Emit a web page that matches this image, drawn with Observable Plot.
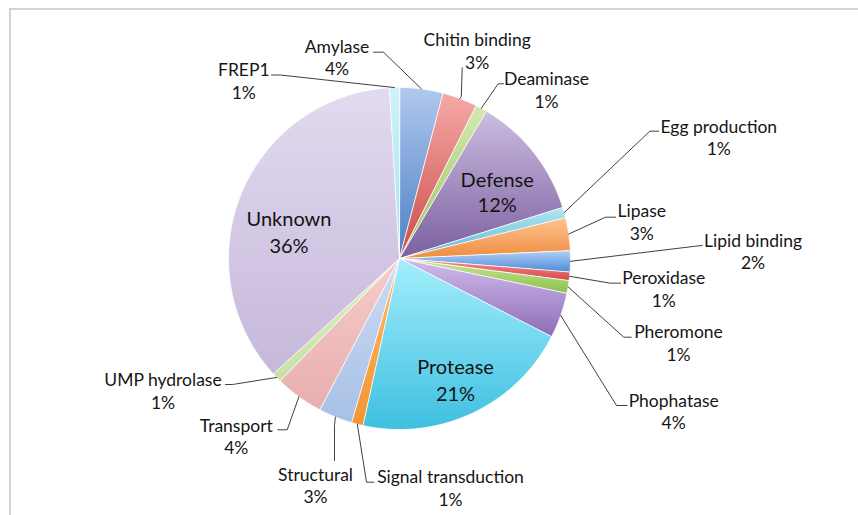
<!DOCTYPE html>
<html><head><meta charset="utf-8">
<script src="https://cdn.jsdelivr.net/npm/d3@7"></script>
<script src="https://cdn.jsdelivr.net/npm/@observablehq/plot@0.6"></script>
<style>body{margin:0;background:#fff}#chart svg{display:block}</style>
</head><body><div id="chart"></div>
<script>
// ---- data ----
const categories = ["Amylase","Chitin binding","Deaminase","Defense","Egg production","Lipase","Lipid binding","Peroxidase","Pheromone","Phophatase","Protease","Signal transduction","Structural","Transport","UMP hydrolase","Unknown","FREP1"];
const values = [4.1,3.3,1.1,11.7,1.0,3.1,2.0,0.8,1.2,4.3,20.9,1.1,3.2,4.6,0.9,35.9,0.95];
const pctLabels = ["4%","3%","1%","12%","1%","3%","2%","1%","1%","4%","21%","1%","3%","4%","1%","36%","1%"];

// ---- styles ----
const topColors    = ["#b0c8ee","#f4aaa8","#d4e8b0","#cbbde0","#b4e6f2","#fcc494","#b4d0f6","#f49090","#cce89a","#d0bcec","#a4eefc","#ffbc6a","#ccdcf4","#f6cccc","#e0f0c8","#e2daf0","#cef2fa"];
const bottomColors = ["#4a7fc4","#cc4a48","#9cc45c","#7c5fa0","#5ab8d4","#f08c3c","#4c8ad8","#d84848","#8cc04c","#8e6cb8","#3ec0e0","#f49432","#a8c0e6","#e8aeae","#c8e0a4","#c6b8da","#a4e2f2"];

// ---- layout ----
const W = 858, H = 515;
const cx = 399, cy = 258, R = 171;
// label: [x, y of name line center, y of pct line center]
const labelPos = [[336.5,46.7,69.3],[476.7,40,63.3],[546,79.3,101.7],[496.7,180,205],[718.3,126.7,149.3],[641.3,211,234.3],[752.5,240.7,262.7],[663.3,278.3,301],[678,331.7,355],[673.2,401,422.7],[455,367.3,394],[450,476.7,500],[315,475,496.7],[235.8,426,448.3],[162.5,380,402.7],[288.5,219.3,246],[243.3,70,92.7]];
const inside = categories.map(c => ["Defense","Protease","Unknown"].includes(c));
// leader: [elbow, attach] (null for inside labels)
const leaders = [[[383,51.7],[373,51.7]],[[460.8,96],[461.7,67.3]],[[497.7,83.3],[503,83.3]],null,[[649.3,130.7],[658.3,130.7]],[[605,216.7],[615,216.7]],[[695,245.7],[701.7,245]],[[610,282.7],[620,282.7]],[[623.3,336.7],[630.7,336.7]],[[616,405],[626.7,405]],null,[[366,481.7],[373.3,481.7]],[[334,425],[334,460]],[[286.7,429.3],[277.3,429.3]],[[232,384],[225,384]],null,[[280,74.5],[271,74.5]]];

const arcs = d3.pie().sort(null).value(d => d)(values);
const slicePts = [];
arcs.forEach((a, i) => {
  const fill = `url(#g${i})`;
  slicePts.push({name: categories[i], x: cx, y: cy, fill});
  const n = Math.max(2, Math.ceil((a.endAngle - a.startAngle) / 0.01));
  for (let k = 0; k <= n; k++) {
    const t = a.startAngle + (a.endAngle - a.startAngle) * k / n;
    slicePts.push({name: categories[i], x: cx + R * Math.sin(t), y: cy - R * Math.cos(t), fill});
  }
});
const leaderPts = [];
arcs.forEach((a, i) => {
  if (!leaders[i]) return;
  const m = (a.startAngle + a.endAngle) / 2;
  leaderPts.push({name: categories[i], x: cx + R * Math.sin(m), y: cy - R * Math.cos(m)});
  for (const [x, y] of leaders[i]) leaderPts.push({name: categories[i], x, y});
});
const nameLabels = categories.map((c, i) => ({text: c, x: labelPos[i][0], y: labelPos[i][1], inside: inside[i]}));
const pctLabelData = pctLabels.map((p, i) => ({text: p, x: labelPos[i][0], y: labelPos[i][2], inside: inside[i]}));

const gradients = () => {
  const defs = d3.create("svg:defs");
  categories.forEach((c, i) => {
    const g = defs.append("linearGradient").attr("id", `g${i}`).attr("x1", 0).attr("y1", 0).attr("x2", 0).attr("y2", 1);
    g.append("stop").attr("offset", "0%").attr("stop-color", topColors[i]);
    g.append("stop").attr("offset", "100%").attr("stop-color", bottomColors[i]);
  });
  return defs.node();
};

const chart = Plot.plot({
  width: W, height: H,
  margin: 0,
  x: {domain: [0, W], range: [0, W], axis: null},
  y: {domain: [0, H], range: [0, H], axis: null},
  color: {type: "identity"},
  style: {fontFamily: "Lato, 'Open Sans', sans-serif", background: "#fff"},
  marks: [
    gradients,
    Plot.ruleX([9.5], {y1: 8.5, y2: H, stroke: "#c4c4c4", strokeWidth: 1.5}),
    Plot.ruleY([8.5], {x1: 9, x2: W, stroke: "#c4c4c4", strokeWidth: 1.5}),
    Plot.line(slicePts, {x: "x", y: "y", z: "name", fill: "fill", stroke: "#ffffff", strokeWidth: 0.8, curve: "linear-closed"}),
    Plot.line(leaderPts, {x: "x", y: "y", z: "name", stroke: "#2a2a2a", strokeWidth: 0.9}),
    Plot.text(nameLabels.filter(d => !d.inside), {x: "x", y: "y", text: "text", fontSize: 17.5, fill: "#161616"}),
    Plot.text(pctLabelData.filter(d => !d.inside), {x: "x", y: "y", text: "text", fontSize: 17.5, fill: "#161616"}),
    Plot.text(nameLabels.filter(d => d.inside), {x: "x", y: "y", text: "text", fontSize: 20, fill: "#141414"}),
    Plot.text(pctLabelData.filter(d => d.inside), {x: "x", y: "y", text: "text", fontSize: 20, fill: "#141414"})
  ]
});
document.getElementById("chart").append(chart);
</script>
</body></html>
